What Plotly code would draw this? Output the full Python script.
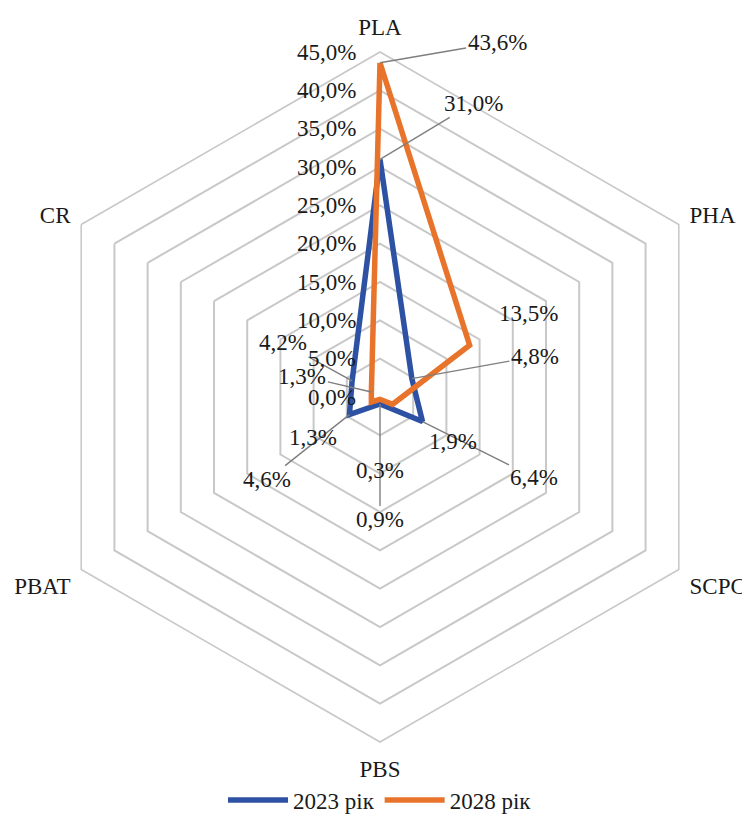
import math
import plotly.graph_objects as go

categories = ["PLA", "PHA", "SCPC", "PBS", "PBAT", "CR"]
values_2023 = [31.0, 4.8, 6.4, 0.9, 4.6, 4.2]
values_2028 = [43.6, 13.5, 1.9, 0.3, 1.3, 1.3]
series_names = ["2023 рік", "2028 рік"]
radial_ticks = [0, 5, 10, 15, 20, 25, 30, 35, 40, 45]

BLUE = "#2E52A3"
ORANGE = "#E8732A"
GRID = "#C8C8C8"
LEADER = "#7F7F7F"
FONT = "Liberation Serif, Times New Roman, serif"
TXT = "#1A1A1A"
FS = 23

fig = go.Figure()

for name, vals, col in [(series_names[0], values_2023, BLUE), (series_names[1], values_2028, ORANGE)]:
    fig.add_trace(go.Scatterpolar(
        r=vals + vals[:1], theta=categories + categories[:1],
        mode="lines", name=name,
        line=dict(color=col, width=5.5, shape="linear"),
        hoverinfo="skip",
    ))

# cartesian overlay for data labels (same geometry as the polar area)
def xy(vals):
    xs, ys = [], []
    for i, v in enumerate(vals):
        a = math.radians(60 * i)
        xs.append(v * math.sin(a))
        ys.append(v * math.cos(a))
    return xs, ys

x23, y23 = xy(values_2023)
x28, y28 = xy(values_2028)
fig.add_trace(go.Scatter(x=x23 + x28, y=y23 + y28, mode="markers",
                         marker=dict(opacity=0, size=1), showlegend=False,
                         hoverinfo="skip", xaxis="x", yaxis="y"))

def fmt(v):
    return f"{v:.1f}".replace(".", ",") + "%"

# label offsets in pixels (ax, ay, leader)
off_2023 = [(93, -56, True), (123, -22, True), (112, 56, True), (0, 116, True), (-82, 65, True), (-69, -38, True)]
off_2028 = [(117, -20, True), (59, -32, False), (60, 37, False), (0, 71, False), (-58, 36, False), (-69, -16, True)]

annotations = []
for xs, ys, vals, offs in [(x23, y23, values_2023, off_2023), (x28, y28, values_2028, off_2028)]:
    for x, y, v, (ax, ay, lead) in zip(xs, ys, vals, offs):
        if lead:
            annotations.append(dict(x=x, y=y, xref="x", yref="y", text=fmt(v),
                                    showarrow=True, arrowhead=0, arrowwidth=1.4,
                                    arrowcolor=LEADER, ax=ax, ay=ay, standoff=0,
                                    font=dict(family=FONT, size=FS, color=TXT)))
        else:
            annotations.append(dict(x=x, y=y, xref="x", yref="y", text=fmt(v),
                                    showarrow=False, xshift=ax, yshift=-ay,
                                    font=dict(family=FONT, size=FS, color=TXT)))

# radial tick labels along the PLA spoke, left of it
for t in radial_ticks:
    annotations.append(dict(x=0, y=t, xref="x", yref="y", text=fmt(t),
                            showarrow=False, xanchor="right", yanchor="middle",
                            xshift=-22, yshift=0,
                            font=dict(family=FONT, size=FS, color=TXT)))

fig.update_layout(
    width=750, height=825,
    margin=dict(l=27, r=33, t=44, b=91),
    paper_bgcolor="white", plot_bgcolor="rgba(0,0,0,0)",
    separators=", ",
    font=dict(family=FONT, size=FS, color=TXT),
    polar=dict(
        domain=dict(x=[0, 1], y=[0, 1]),
        bgcolor="white",
        gridshape="linear",
        radialaxis=dict(range=[0, 45], tickvals=radial_ticks, showticklabels=False,
                        angle=90, showline=False, ticks="", gridcolor=GRID, gridwidth=1.6),
        angularaxis=dict(direction="clockwise", rotation=90, showgrid=False,
                         showline=True, linecolor=GRID, linewidth=1.6,
                         ticks="outside", ticklen=7, tickcolor="rgba(0,0,0,0)",
                         tickfont=dict(family=FONT, size=FS, color=TXT)),
    ),
    xaxis=dict(domain=[0, 1], range=[-45, 45], visible=False, fixedrange=True),
    yaxis=dict(domain=[0, 1], range=[-45, 45], visible=False, fixedrange=True),
    showlegend=True,
    legend=dict(orientation="h", x=0.5, xanchor="center", y=0.04, yref="container",
                yanchor="middle", font=dict(family=FONT, size=FS, color=TXT),
                itemwidth=60),
    annotations=annotations,
)

fig.write_html("out.html")
